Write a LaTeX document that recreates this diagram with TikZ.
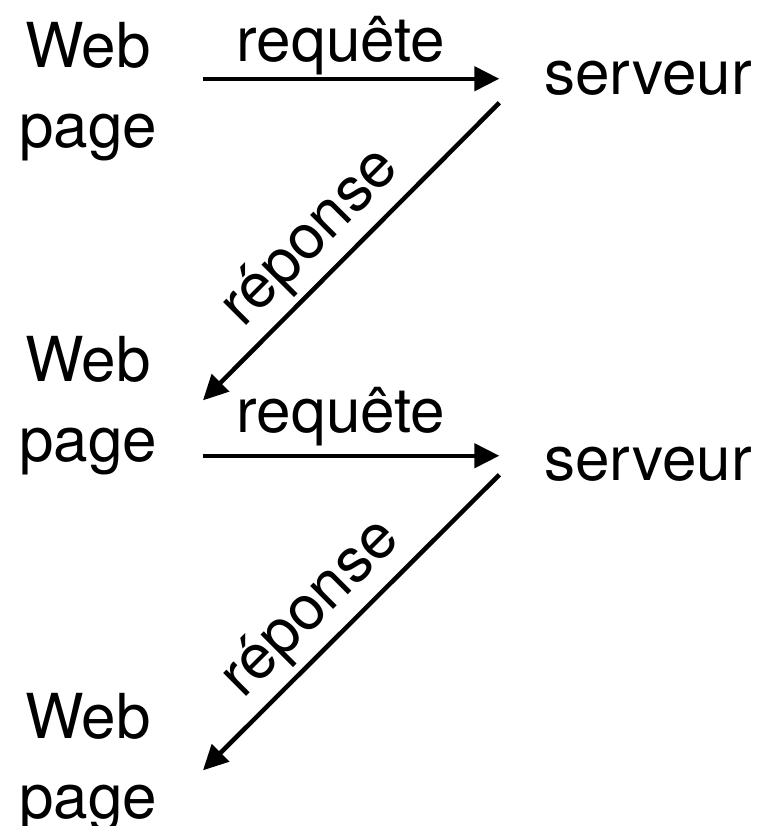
\documentclass[tikz,border=0pt]{standalone}
\usepackage{fontspec}
\setmainfont{TeX Gyre Heros}
\usetikzlibrary{arrows.meta}
\begin{document}
\begin{tikzpicture}[x=1pt,y=-1pt,
  lbl/.style={font=\fontsize{62}{80}\selectfont, inner sep=0pt},
  webpage/.style={lbl, align=center, anchor=north, outer xsep=46pt, outer ysep=0pt},
  srv/.style={lbl, anchor=base, outer xsep=45pt, outer ysep=0pt},
  arr/.style={line width=4.5pt, -{Triangle[length=25pt,width=24pt]}},
  resp/.style={lbl, sloped, pos=0.545, above=6pt}
]
\useasboundingbox (0,0) rectangle (763,826);
\node[webpage] (w1) at (88,22) {Web\\page};
\node[webpage] (w2) at (88,336) {Web\\page};
\node[webpage] (w3) at (88,693) {Web\\page};
\node[srv] (s1) at (648,95) {serveur};
\node[srv] (s2) at (648,480) {serveur};
\node[lbl, anchor=base] (q1) at (341,62) {requête};
\node[lbl, anchor=base] (q2) at (341,432) {requête};
\draw[arr] (w1.east |- s1.west) -- (s1.west);
\draw[arr] ([yshift=-24pt]s1.west) -- node[resp] (r1) {réponse} ([yshift=5pt]w2.east);
\coordinate (h2e) at ([yshift=8pt]s2.west);
\draw[arr] (w2.east |- h2e) -- (h2e);
\draw[arr] ([yshift=-11pt]s2.west) -- node[resp] (r2) {réponse} ([yshift=-8pt]w3.east);
\end{tikzpicture}
\end{document}
